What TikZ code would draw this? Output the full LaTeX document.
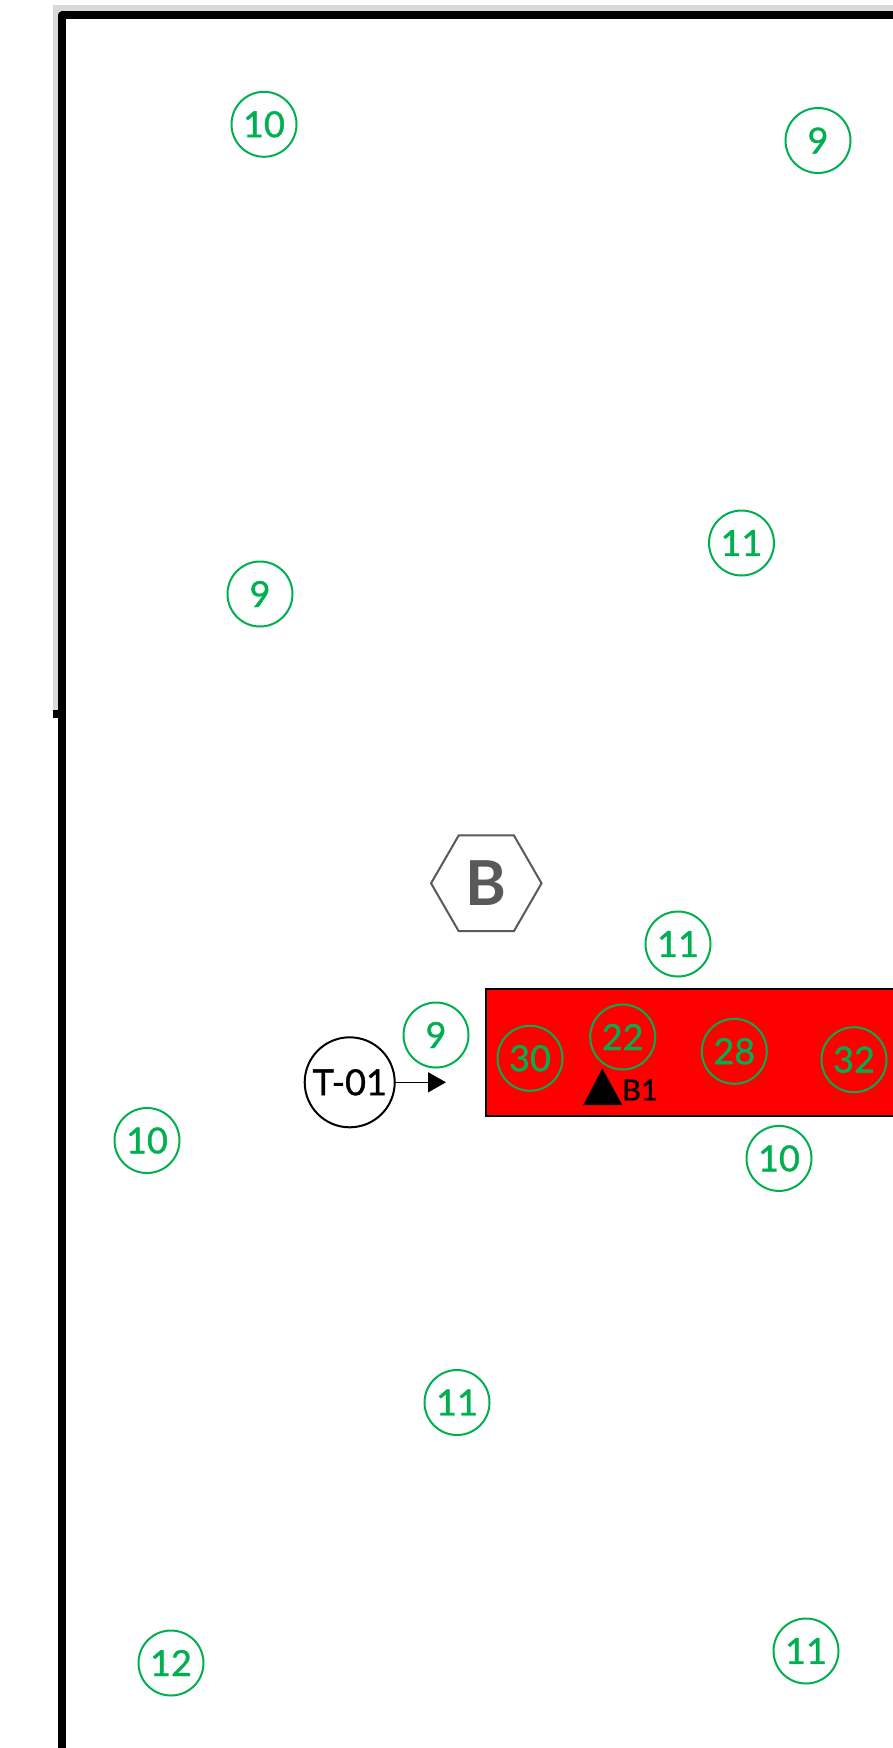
\documentclass[tikz,border=0pt]{standalone}
\usepackage{fontspec}
\setmainfont{Lato}
\newfontfamily\heavyfont[FakeBold=1.0]{Lato}
\usetikzlibrary{arrows.meta,shapes.geometric}
\definecolor{mygreen}{HTML}{00B050}
\definecolor{hexgray}{HTML}{595959}
\definecolor{bandgray}{HTML}{D9D9D9}
\tikzset{
  x=1pt,y=-1pt,
  num/.style={circle,draw=mygreen,line width=2pt,text=mygreen,minimum size=65pt,inner sep=0pt,outer sep=0pt,font=\heavyfont\fontsize{36}{36}\selectfont},
  wall/.style={line width=7.7pt,draw=black,line cap=butt,line join=round},
}
\begin{document}
\begin{tikzpicture}
\useasboundingbox (0,0) rectangle (893,1748);
\clip (0,0) rectangle (893,1748);
\fill[white] (0,0) rectangle (893,1748);
% grey band behind the upper wall
\fill[bandgray] (53,5) rectangle (900,11);
\fill[bandgray] (53,5) rectangle (58.5,712);
% wall
\draw[wall] (62.3,1760) -- (62.3,14.8) -- (900,14.8);
\draw[line width=7.7pt,draw=black] (53,713.8) -- (62.3,713.8);
% red band
\node[draw=black,line width=1.2pt,fill=red,minimum width=500pt,minimum height=127pt,inner sep=0pt,outer sep=0pt,anchor=north west] (band) at (486,989) {};
% green numbers
\node[num] (a1) at (264,124.3) {10};
\node[num] (a2) at (818,140.5) {9};
\node[num] (a3) at (741.5,543) {11};
\node[num] (a4) at (260,594) {9};
\node[num] (a5) at (678,944) {11};
\node[num] (a6) at (436,1035) {9};
\node[num] (a7) at (530,1058.3) {30};
\node[num] (a8) at (622.7,1037) {22};
\node[num] (a9) at (734.3,1051.3) {28};
\node[num] (a10) at (854,1059.7) {32};
\node[num] (a11) at (779,1158.4) {10};
\node[num] (a12) at (147,1140.5) {10};
\node[num] (a13) at (457,1402.5) {11};
\node[num] (a14) at (806,1651) {11};
\node[num] (a15) at (171,1663) {12};
% hexagon
\node[regular polygon,regular polygon sides=6,draw=hexgray,line width=2pt,minimum size=110.5pt,inner sep=0pt,outer sep=0pt,text=hexgray,font=\fontsize{62}{62}\selectfont\bfseries] (hex) at (486.3,883.3) {B};
% tag
\node[circle,draw=black,line width=2pt,fill=white,minimum size=90pt,inner sep=0pt,outer sep=0pt,font=\heavyfont\fontsize{36}{36}\selectfont] (tag) at (349.7,1082.3) {T-01};
\coordinate (tip) at (446,1082.3);
\draw[line width=1.6pt,-{Triangle[length=18pt,width=20pt]}] (tag) -- (tip);
% marker
\fill[black] (602.3,1068.3) -- (622.3,1105) -- (583.3,1105) -- cycle;
\node[anchor=west,inner sep=0pt,font=\heavyfont\fontsize{29}{29}\selectfont] (b1) at (622,1090) {B1};
\end{tikzpicture}
\end{document}
